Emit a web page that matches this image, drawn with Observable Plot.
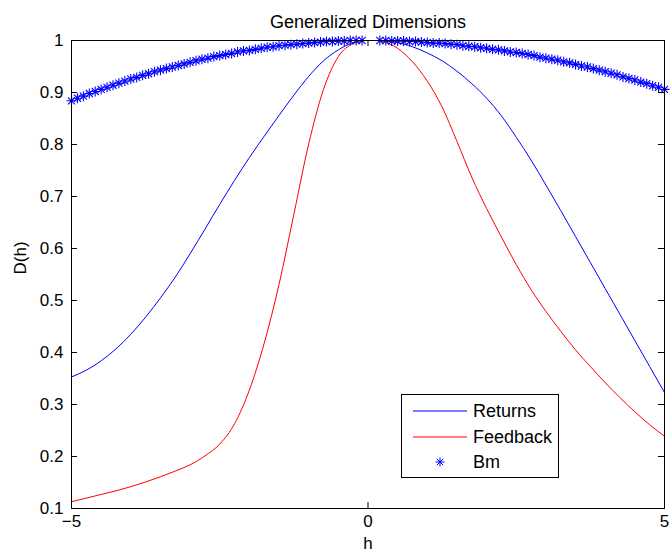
<!DOCTYPE html>
<html>
<head>
<meta charset="utf-8">
<script src="https://cdn.jsdelivr.net/npm/d3@7"></script>
<script src="https://cdn.jsdelivr.net/npm/@observablehq/plot@0.6"></script>
<style>
  html, body { margin: 0; padding: 0; background: #fff; }
  #wrap { position: relative; width: 671px; height: 558px; font-family: "Liberation Sans", Arial, sans-serif; }
  #legend { position: absolute; left: 401px; top: 394px; width: 156px; height: 82px; border: 1px solid #000; background: #fff; }
  #legend .row { position: absolute; left: 0; height: 24px; width: 156px; }
  #legend svg { position: absolute; left: 10px; top: 0; }
  #legend span { position: absolute; left: 71px; top: 0; line-height: 24px; font-size: 18px; color: #000; }
</style>
</head>
<body>
<div id="wrap"></div>
<script>
// ---- Data ----
const xTicks = [-5, 0, 5];
const yTicks = [0.1, 0.2, 0.3, 0.4, 0.5, 0.6, 0.7, 0.8, 0.9, 1];

// Returns (blue line)
const returnsLeftH = [-5, -4.75, -4.5, -4.25, -4, -3.75, -3.5, -3.25, -3, -2.75, -2.5, -2.25, -2, -1.75, -1.5, -1.25, -1, -0.75, -0.5, -0.25, -0.1];
const returnsLeftD = [0.353, 0.366, 0.384, 0.407, 0.435, 0.468, 0.505, 0.545, 0.590, 0.637, 0.685, 0.731, 0.775, 0.816, 0.856, 0.895, 0.931, 0.961, 0.982, 0.996, 1.000];
const returnsRightH = [0.2, 0.5, 0.75, 1, 1.25, 1.5, 1.75, 2, 2.25, 2.5, 2.75, 3, 3.25, 3.5, 3.75, 4, 4.25, 4.5, 4.75, 5];
const returnsRightD = [0.999, 0.996, 0.988, 0.976, 0.961, 0.941, 0.917, 0.889, 0.855, 0.814, 0.770, 0.722, 0.673, 0.623, 0.573, 0.523, 0.473, 0.423, 0.373, 0.323];

// Feedback (red line)
const feedbackLeftH = [-5, -4.75, -4.5, -4.25, -4, -3.75, -3.5, -3.25, -3, -2.75, -2.5, -2.25, -2, -1.75, -1.5, -1.25, -1, -0.75, -0.5, -0.25, -0.1];
const feedbackLeftD = [0.113, 0.120, 0.127, 0.134, 0.142, 0.151, 0.161, 0.172, 0.184, 0.201, 0.224, 0.263, 0.328, 0.418, 0.531, 0.666, 0.801, 0.906, 0.969, 0.994, 0.998];
const feedbackRightH = [0.2, 0.5, 0.75, 1, 1.25, 1.5, 1.75, 2, 2.25, 2.5, 2.75, 3, 3.25, 3.5, 3.75, 4, 4.25, 4.5, 4.75, 5];
const feedbackRightD = [0.999, 0.985, 0.959, 0.922, 0.872, 0.806, 0.737, 0.677, 0.622, 0.569, 0.521, 0.479, 0.441, 0.405, 0.373, 0.342, 0.313, 0.286, 0.261, 0.239];

// Bm (blue asterisks)
const bmLeftH = [-5, -4.9, -4.8, -4.7, -4.6, -4.5, -4.4, -4.3, -4.2, -4.1, -4, -3.9, -3.8, -3.7, -3.6, -3.5, -3.4, -3.3, -3.2, -3.1, -3, -2.9, -2.8, -2.7, -2.6, -2.5, -2.4, -2.3, -2.2, -2.1, -2, -1.9, -1.8, -1.7, -1.6, -1.5, -1.4, -1.3, -1.2, -1.1, -1, -0.9, -0.8, -0.7, -0.6, -0.5, -0.4, -0.3, -0.2, -0.1];
const bmLeftD = [0.884, 0.889, 0.893, 0.898, 0.902, 0.906, 0.910, 0.914, 0.918, 0.922, 0.926, 0.929, 0.933, 0.936, 0.940, 0.943, 0.946, 0.949, 0.952, 0.955, 0.958, 0.961, 0.964, 0.966, 0.969, 0.971, 0.973, 0.975, 0.978, 0.980, 0.981, 0.983, 0.985, 0.987, 0.988, 0.990, 0.991, 0.992, 0.993, 0.994, 0.995, 0.996, 0.997, 0.998, 0.998, 0.999, 0.999, 1.000, 1.000, 1.000];
const bmRightH = [0.2, 0.3, 0.4, 0.5, 0.6, 0.7, 0.8, 0.9, 1, 1.1, 1.2, 1.3, 1.4, 1.5, 1.6, 1.7, 1.8, 1.9, 2, 2.1, 2.2, 2.3, 2.4, 2.5, 2.6, 2.7, 2.8, 2.9, 3, 3.1, 3.2, 3.3, 3.4, 3.5, 3.6, 3.7, 3.8, 3.9, 4, 4.1, 4.2, 4.3, 4.4, 4.5, 4.6, 4.7, 4.8, 4.9, 5];
const bmRightD = [1.000, 1.000, 0.999, 0.999, 0.999, 0.998, 0.998, 0.997, 0.996, 0.995, 0.995, 0.994, 0.993, 0.992, 0.990, 0.989, 0.988, 0.986, 0.985, 0.983, 0.982, 0.980, 0.978, 0.977, 0.975, 0.973, 0.971, 0.968, 0.966, 0.964, 0.962, 0.959, 0.957, 0.954, 0.951, 0.949, 0.946, 0.943, 0.940, 0.937, 0.934, 0.930, 0.927, 0.924, 0.920, 0.917, 0.913, 0.910, 0.906];

// ---- Build tables ----
function rows(hs, ds, side) { return hs.map((h, i) => ({h, d: ds[i], side})); }
const returns = [...rows(returnsLeftH, returnsLeftD, "L"), ...rows(returnsRightH, returnsRightD, "R")];
const feedback = [...rows(feedbackLeftH, feedbackLeftD, "L"), ...rows(feedbackRightH, feedbackRightD, "R")];
const bm = [...rows(bmLeftH, bmLeftD, "L"), ...rows(bmRightH, bmRightD, "R")];

// MATLAB-like asterisk (plus + cross)
const asterisk = {
  draw(context, size) {
    const r = Math.sqrt(size / Math.PI);
    const t = r * Math.SQRT1_2;
    context.moveTo(-r, 0); context.lineTo(r, 0);
    context.moveTo(0, -r); context.lineTo(0, r);
    context.moveTo(-t, -t); context.lineTo(t, t);
    context.moveTo(-t, t); context.lineTo(t, -t);
  }
};

const W = 671, H = 558, mL = 71, mR = 7, mT = 40, mB = 50;
const fw = W - mL - mR, fh = H - mT - mB, tl = 6;
const minus = d => d < 0 ? "\u2212" + Math.abs(d) : String(d);

const chart = Plot.plot({
  width: W, height: H,
  marginLeft: mL, marginRight: mR, marginTop: mT, marginBottom: mB,
  style: {fontFamily: "'Liberation Sans', Arial, sans-serif", fontSize: "17px", background: "#fff", color: "#000"},
  x: {domain: [-5, 5]},
  y: {domain: [0.1, 1]},
  marks: [
    Plot.line(returns, {x: "h", y: "d", z: "side", stroke: "#0000ff", strokeWidth: 1, curve: "monotone-x"}),
    Plot.line(feedback, {x: "h", y: "d", z: "side", stroke: "#ff0000", strokeWidth: 1, curve: "monotone-x"}),
    Plot.dot(bm, {x: "h", y: "d", symbol: asterisk, r: 5, stroke: "#0000ff", strokeWidth: 1.1}),
    // inward ticks on all four sides
    Plot.tickY(yTicks, {y: d => d, insetRight: fw - tl, stroke: "#000"}),
    Plot.tickY(yTicks, {y: d => d, insetLeft: fw - tl, stroke: "#000"}),
    Plot.tickX(xTicks, {x: d => d, insetTop: fh - tl, stroke: "#000"}),
    Plot.tickX(xTicks, {x: d => d, insetBottom: fh - tl, stroke: "#000"}),
    Plot.axisX(xTicks, {tickSize: 0, tickPadding: 6, tickFormat: minus, label: null, fill: "#000", fontSize: 17}),
    Plot.axisY(yTicks, {tickSize: 0, tickPadding: 8, tickFormat: d => d === 1 ? "1" : d.toFixed(1), label: null, fill: "#000", fontSize: 17}),
    Plot.frame({stroke: "#000", strokeWidth: 1}),
    Plot.text(["Generalized Dimensions"], {frameAnchor: "top", dy: -25, fontSize: 18, fill: "#000"}),
    Plot.text(["h"], {frameAnchor: "bottom", dy: 40, fontSize: 17, fill: "#000"}),
    Plot.text(["D(h)"], {frameAnchor: "left", dx: -51, rotate: -90, fontSize: 17, fill: "#000"})
  ]
});

const wrap = document.getElementById("wrap");
wrap.appendChild(chart);

// Legend (HTML overlay)
const legendItems = [
  {label: "Returns", type: "line", color: "#0000ff"},
  {label: "Feedback", type: "line", color: "#ff0000"},
  {label: "Bm", type: "marker", color: "#0000ff"}
];
const lg = document.createElement("div");
lg.id = "legend";
legendItems.forEach((it, i) => {
  const row = document.createElement("div");
  row.className = "row";
  row.style.top = (4 + i * 25.5) + "px";
  let sw;
  if (it.type === "line") {
    sw = `<svg width="56" height="24"><line x1="1" x2="55" y1="12" y2="12" stroke="${it.color}" stroke-width="1"/></svg>`;
  } else {
    const r = 4.5, t = r * Math.SQRT1_2;
    sw = `<svg width="56" height="24"><g transform="translate(28,12)" stroke="${it.color}" stroke-width="1"><line x1="${-r}" x2="${r}" y1="0" y2="0"/><line x1="0" x2="0" y1="${-r}" y2="${r}"/><line x1="${-t}" x2="${t}" y1="${-t}" y2="${t}"/><line x1="${-t}" x2="${t}" y1="${t}" y2="${-t}"/></g></svg>`;
  }
  row.innerHTML = sw + `<span>${it.label}</span>`;
  lg.appendChild(row);
});
wrap.appendChild(lg);
</script>
</body>
</html>
